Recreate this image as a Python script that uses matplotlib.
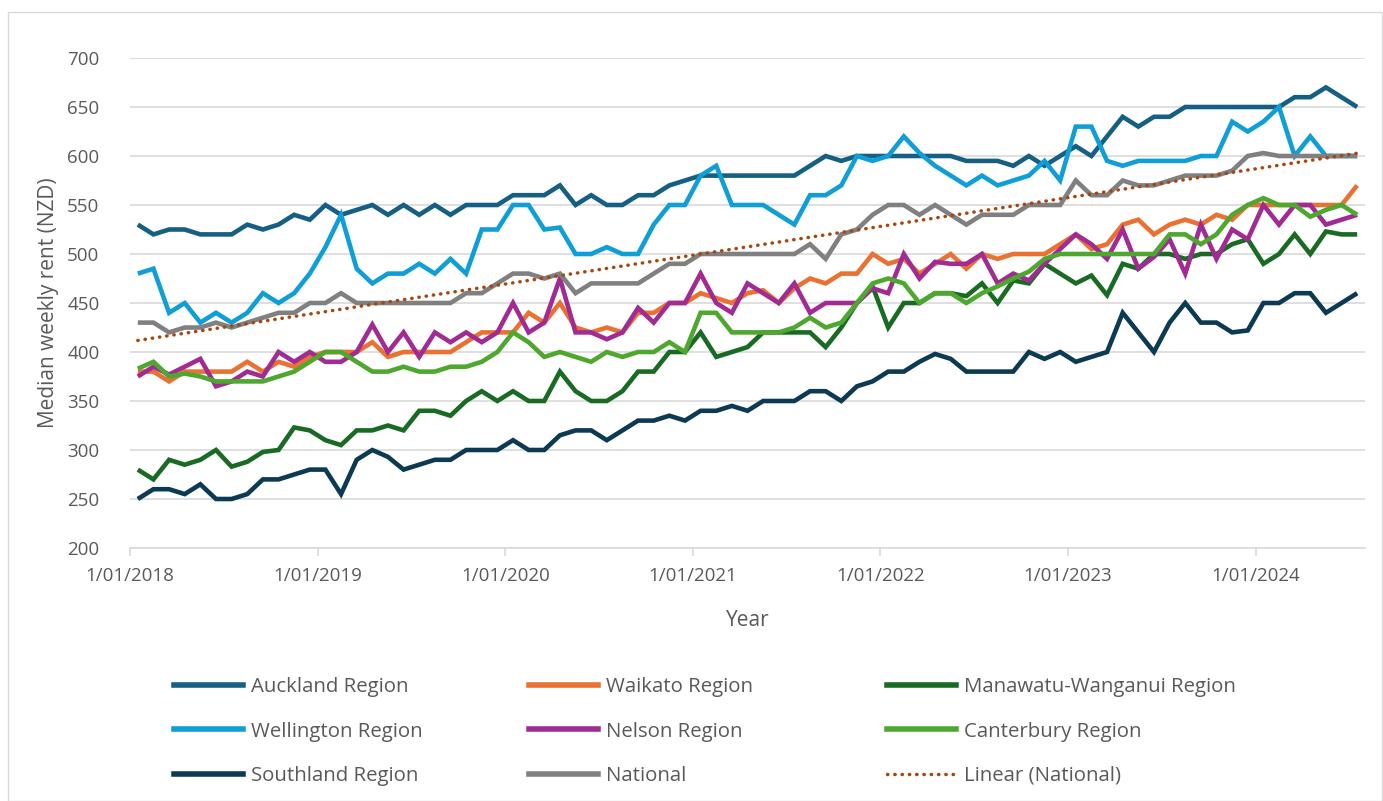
import numpy as np
import matplotlib
matplotlib.use("Agg")
import matplotlib.pyplot as plt
from matplotlib.lines import Line2D
from matplotlib.patches import Rectangle

# ---------------- data (monthly, Jan 2018 - Jul 2024) ----------------
x_tick_labels = ["1/01/2018", "1/01/2019", "1/01/2020", "1/01/2021",
                 "1/01/2022", "1/01/2023", "1/01/2024"]

auckland = [530, 520, 525, 525, 520, 520, 520, 530, 525, 530, 540, 535, 550,
            540, 545, 550, 540, 550, 540, 550, 540, 550, 550, 550, 560,
            560, 560, 570, 550, 560, 550, 550, 560, 560, 570, 575, 580,
            580, 580, 580, 580, 580, 580, 590, 600, 595, 600, 600, 600,
            600, 600, 600, 600, 595, 595, 595, 590, 600, 590, 600, 610, 600,
            620, 640, 630, 640, 640, 650, 650, 650, 650, 650, 650, 650, 660, 660, 670, 660, 650]

waikato = [380, 380, 370, 380, 380, 380, 380, 390, 380, 390, 385, 395, 400,
           400, 400, 410, 395, 400, 400, 400, 400, 410, 420, 420, 420,
           440, 430, 450, 425, 420, 425, 420, 440, 440, 450, 450, 460,
           455, 450, 460, 463, 450, 465, 475, 470, 480, 480, 500, 490,
           495, 480, 490, 500, 485, 500, 495, 500, 500, 500, 510, 520, 505,
           510, 530, 535, 520, 530, 535, 530, 540, 535, 550, 550, 550, 550, 550, 550, 550, 570]

manawatu = [280, 270, 290, 285, 290, 300, 283, 288, 298, 300, 323, 320, 310,
            305, 320, 320, 325, 320, 340, 340, 335, 350, 360, 350, 360,
            350, 350, 380, 360, 350, 350, 360, 380, 380, 400, 400, 420,
            395, 400, 405, 420, 420, 420, 420, 405, 425, 450, 467, 425,
            450, 450, 460, 460, 457, 470, 450, 473, 470, 490, 480, 470, 478,
            458, 490, 485, 500, 500, 495, 500, 500, 510, 515, 490, 500, 520, 500, 523, 520, 520]

wellington = [480, 485, 440, 450, 430, 440, 430, 440, 460, 450, 460, 480, 507,
              540, 485, 470, 480, 480, 490, 480, 495, 480, 525, 525, 550,
              550, 525, 527, 500, 500, 507, 500, 500, 530, 550, 550, 580,
              590, 550, 550, 550, 540, 530, 560, 560, 570, 600, 595, 600,
              620, 603, 590, 580, 570, 580, 570, 575, 580, 595, 575, 630, 630,
              595, 590, 595, 595, 595, 595, 600, 600, 635, 625, 635, 650, 600, 620, 600, 600, 600]

nelson = [375, 385, 377, 385, 393, 365, 370, 380, 375, 400, 390, 400, 390,
          390, 400, 428, 400, 420, 395, 420, 410, 420, 410, 420, 450,
          420, 430, 475, 420, 420, 413, 420, 445, 430, 450, 450, 480,
          450, 440, 470, 460, 450, 470, 440, 450, 450, 450, 465, 460,
          500, 475, 492, 490, 490, 500, 470, 480, 473, 490, 505, 520, 510,
          495, 525, 485, 497, 515, 480, 530, 495, 525, 515, 550, 530, 550, 550, 530, 535, 540]

canterbury = [383, 390, 375, 378, 375, 370, 370, 370, 370, 375, 380, 390, 400,
              400, 390, 380, 380, 385, 380, 380, 385, 385, 390, 400, 420,
              410, 395, 400, 395, 390, 400, 395, 400, 400, 410, 400, 440,
              440, 420, 420, 420, 420, 425, 435, 425, 430, 450, 470, 475,
              470, 450, 460, 460, 450, 460, 467, 475, 482, 495, 500, 500, 500,
              500, 500, 500, 500, 520, 520, 510, 520, 540, 550, 557, 550, 550, 538, 545, 550, 540]

southland = [250, 260, 260, 255, 265, 250, 250, 255, 270, 270, 275, 280, 280,
             255, 290, 300, 293, 280, 285, 290, 290, 300, 300, 300, 310,
             300, 300, 315, 320, 320, 310, 320, 330, 330, 335, 330, 340,
             340, 345, 340, 350, 350, 350, 360, 360, 350, 365, 370, 380,
             380, 390, 398, 393, 380, 380, 380, 380, 400, 393, 400, 390, 395,
             400, 440, 420, 400, 430, 450, 430, 430, 420, 422, 450, 450, 460, 460, 440, 450, 460]

national = [430, 430, 420, 425, 425, 430, 425, 430, 435, 440, 440, 450, 450,
            460, 450, 450, 450, 450, 450, 450, 450, 460, 460, 470, 480,
            480, 475, 480, 460, 470, 470, 470, 470, 480, 490, 490, 500,
            500, 500, 500, 500, 500, 500, 510, 495, 520, 525, 540, 550,
            550, 540, 550, 540, 530, 540, 540, 540, 550, 550, 550, 575, 560,
            560, 575, 570, 570, 575, 580, 580, 580, 585, 600, 603, 600, 600, 600, 600, 600, 600]

series_names = ["Auckland Region", "Waikato Region", "Manawatu-Wanganui Region",
                "Wellington Region", "Nelson Region", "Canterbury Region",
                "Southland Region", "National"]
series_values = [auckland, waikato, manawatu, wellington, nelson, canterbury,
                 southland, national]
series_colors = ["#156082", "#E97132", "#196B24", "#0F9ED5", "#A02B93",
                 "#4EA72E", "#0C3A52", "#808080"]
trend_label = "Linear (National)"
trend_color = "#A5470F"

# ---------------- figure ----------------
plt.rcParams["font.family"] = ["Open Sans", "DejaVu Sans"]
TXT = "#595959"

W, H = 1383, 801
fig = plt.figure(figsize=(W / 100, H / 100), dpi=100)
fig.patches.append(Rectangle((8 / W, 0), (W - 9) / W, (H - 12) / H,
                             transform=fig.transFigure, fill=False,
                             edgecolor="#d9d9d9", linewidth=1.0))

ax = fig.add_axes([130 / W, 1 - 548 / H, (1365 - 130) / W, (548 - 58) / H])

n = len(national)
x = np.arange(n)
handles = {}
for name, vals, col in zip(series_names, series_values, series_colors):
    (h,) = ax.plot(x, vals, color=col, lw=3.3, solid_joinstyle="miter",
                   solid_capstyle="butt", label=name)
    handles[name] = h

coef = np.polyfit(x, national, 1)
(ht,) = ax.plot(x, np.polyval(coef, x), color=trend_color, lw=2.5,
                linestyle=(0, (0.1, 2.0)), dash_capstyle="round",
                label=trend_label)
handles[trend_label] = ht

ax.set_xlim(-0.5, n - 0.5)
ax.set_ylim(200, 700)
ax.set_yticks(np.arange(200, 701, 50))
ax.grid(axis="y", color="#d9d9d9", linewidth=1.2)
ax.set_axisbelow(True)
for s in ["top", "right", "left"]:
    ax.spines[s].set_visible(False)
ax.spines["bottom"].set_color("#d9d9d9")
ax.spines["bottom"].set_linewidth(1.2)

xt = np.arange(-0.5, n, 12)[:len(x_tick_labels)]
ax.set_xticks(xt)
ax.set_xticklabels(x_tick_labels)
ax.tick_params(axis="x", length=6, width=1.2, color="#d9d9d9", pad=8,
               labelsize=13.5, labelcolor=TXT)
ax.tick_params(axis="y", length=0, pad=22, labelsize=13.5, labelcolor=TXT)

ax.set_xlabel("Year", fontsize=15, color=TXT, labelpad=18)
ax.set_ylabel("Median weekly rent (NZD)", fontsize=15, color=TXT, labelpad=6)

# legend: three fixed-width columns like the Excel layout
cols = [["Auckland Region", "Wellington Region", "Southland Region"],
        ["Waikato Region", "Nelson Region", "National"],
        ["Manawatu-Wanganui Region", "Canterbury Region", trend_label]]
col_x = [174, 529, 887]
for cx, names in zip(col_x, cols):
    hs = []
    for nm in names:
        h = handles[nm]
        if nm == trend_label:
            hs.append(Line2D([], [], color=trend_color, lw=2.5,
                             linestyle=(0, (0.1, 2.0)), dash_capstyle="round"))
        else:
            hs.append(Line2D([], [], color=h.get_color(), lw=4))
    fig.legend(hs, names, loc="upper left",
               bbox_to_anchor=(cx / W, 1 - 677 / H),
               frameon=False, fontsize=14.7, labelcolor=TXT,
               handlelength=3.4, handletextpad=0.35,
               labelspacing=1.2, borderpad=0, borderaxespad=0)

fig.savefig("out.png", dpi=100)
